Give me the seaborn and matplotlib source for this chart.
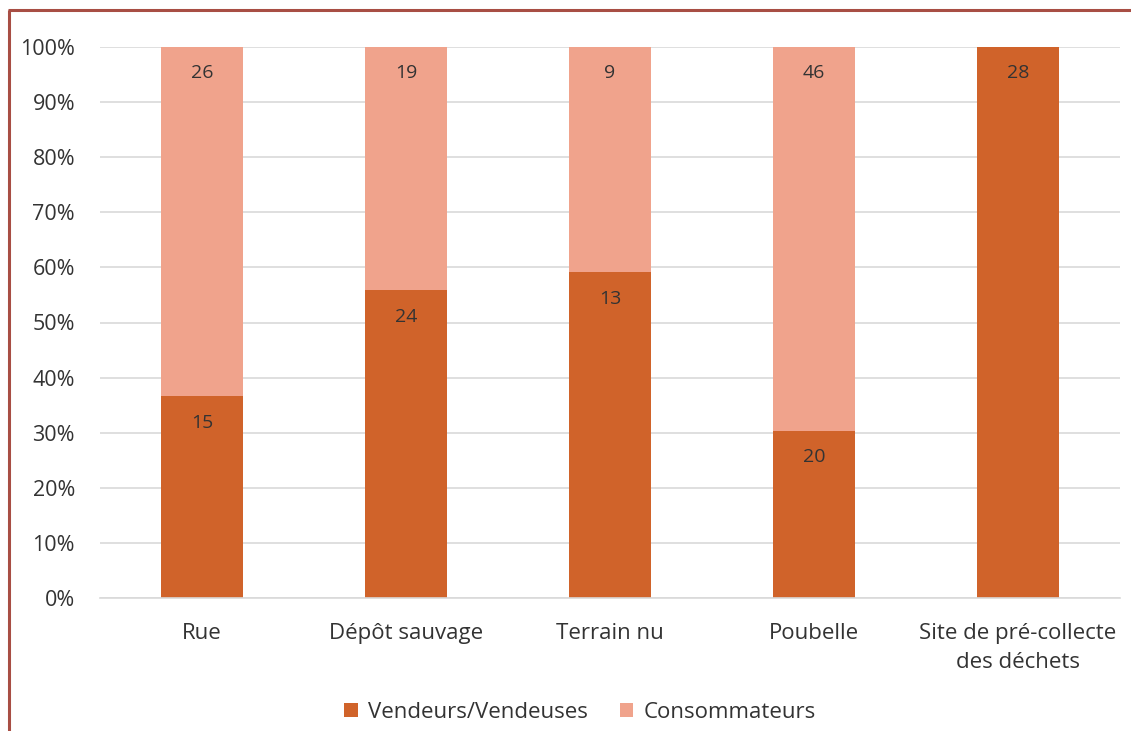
import matplotlib
matplotlib.use("Agg")
import matplotlib.pyplot as plt
import seaborn as sns
import pandas as pd
import numpy as np
from matplotlib.patches import Patch
from matplotlib.lines import Line2D
from matplotlib.ticker import PercentFormatter

categories = ["Rue", "Dépôt sauvage", "Terrain nu", "Poubelle", "Site de pré-collecte\ndes déchets"]
vendeurs = [15, 24, 13, 20, 28]
consommateurs = [26, 19, 9, 46, 0]
series_names = ["Vendeurs/Vendeuses", "Consommateurs"]

dark = "#D0632A"
light = "#F0A38C"
text_col = "#333333"

sns.set_theme(style="white")
plt.rcParams["font.family"] = ["Open Sans", "DejaVu Sans"]

v = np.array(vendeurs, dtype=float)
c = np.array(consommateurs, dtype=float)
tot = v + c
df = pd.DataFrame({
    "cat": categories,
    "v_pct": v / tot * 100,
    "tot_pct": tot / tot * 100,
})

fig = plt.figure(figsize=(11.31, 7.31), dpi=100)
ax = fig.add_axes([100 / 1131, 133 / 731, 1020 / 1131, 551 / 731])

sns.barplot(data=df, x="cat", y="tot_pct", color=light, width=0.4, ax=ax,
            saturation=1, edgecolor="none", linewidth=0)
sns.barplot(data=df, x="cat", y="v_pct", color=dark, width=0.4, ax=ax,
            saturation=1, edgecolor="none", linewidth=0)

ax.set_xlim(-0.5, 4.5)
ax.set_ylim(0, 100)
ax.set_yticks(np.arange(0, 101, 10))
ax.yaxis.set_major_formatter(PercentFormatter(decimals=0))
ax.grid(axis="y", color="#D9D9D9", linewidth=1.2)
ax.set_axisbelow(True)
for s in ["top", "right", "left"]:
    ax.spines[s].set_visible(False)
ax.spines["bottom"].set_color("#D9D9D9")
ax.spines["bottom"].set_linewidth(1.2)
ax.set_xlabel("")
ax.set_ylabel("")
ax.tick_params(axis="y", length=0, pad=18, labelsize=15.5, labelcolor=text_col)
ax.tick_params(axis="x", length=0, pad=18, labelsize=16, labelcolor=text_col)
for lbl in ax.get_xticklabels():
    lbl.set_linespacing(1.5)

# value labels (inside end)
for i in range(len(categories)):
    vp = df["v_pct"].iloc[i]
    ax.annotate(str(vendeurs[i]), (i, vp), xytext=(0, -19), textcoords="offset points",
                ha="center", va="center", fontsize=14, color=text_col)
    if consommateurs[i] > 0:
        ax.annotate(str(consommateurs[i]), (i, df["tot_pct"].iloc[i]), xytext=(0, -19),
                    textcoords="offset points", ha="center", va="center",
                    fontsize=14, color=text_col)

handles = [Patch(facecolor=dark, edgecolor="none"), Patch(facecolor=light, edgecolor="none")]
fig.legend(handles, series_names, loc="center", bbox_to_anchor=(580 / 1131, 19 / 731),
           ncol=2, frameon=False, fontsize=16, handlelength=0.6, handleheight=0.6,
           handletextpad=0.45, columnspacing=1.45, labelcolor=text_col)

# border lines
border = "#A84E44"
fig.add_artist(Line2D([8 / 1131, 1], [1 - 10 / 731, 1 - 10 / 731], transform=fig.transFigure,
                      color=border, linewidth=2.2, solid_capstyle="butt"))
fig.add_artist(Line2D([9 / 1131, 9 / 1131], [0, 1 - 10 / 731], transform=fig.transFigure,
                      color=border, linewidth=2.2, solid_capstyle="butt"))

fig.savefig("out.png", dpi=100)
